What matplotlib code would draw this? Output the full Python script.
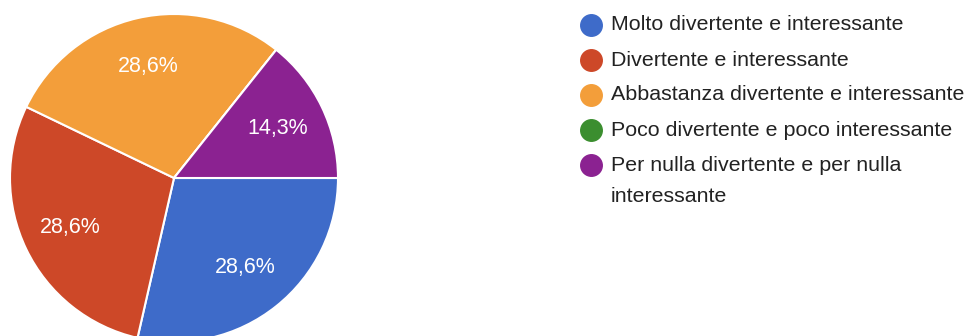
import matplotlib.pyplot as plt
from matplotlib.lines import Line2D

plt.rcParams['font.family'] = ['Liberation Sans', 'DejaVu Sans']

# ======================
# Data
# ======================
categories = [
    'Molto divertente e interessante',
    'Divertente e interessante',
    'Abbastanza divertente e interessante',
    'Poco divertente e poco interessante',
    'Per nulla divertente e per nulla\ninteressante',
]
responses = [2, 2, 2, 0, 1]
colors = ['#3e6bc9', '#cd4828', '#f39e3a', '#3b8e2f', '#8b2291']

W, H = 977, 336

# ======================
# Figure (axes in pixel units)
# ======================
fig = plt.figure(figsize=(W / 100, H / 100), dpi=100)
ax = fig.add_axes([0, 0, 1, 1])

def pct_label(p):
    return f'{p:.1f}%'.replace('.', ',') if p > 0 else ''

wedges, texts, autotexts = ax.pie(
    responses,
    colors=colors,
    startangle=0,
    counterclock=False,
    center=(174, H - 178),
    radius=164,
    autopct=pct_label,
    pctdistance=0.7,
    wedgeprops=dict(edgecolor='white', linewidth=1.5),
    textprops=dict(color='white', fontsize=15.5),
)

ax.set_xlim(0, W)
ax.set_ylim(0, H)
ax.set_aspect('equal', adjustable='box')
ax.axis('off')

# ======================
# Legend
# ======================
for i, (label, col) in enumerate(zip(categories, colors)):
    y = H - (25 + 35 * i)
    ax.add_line(Line2D([591], [y], marker='o', markersize=15.5,
                       markerfacecolor=col, markeredgecolor=col))
    if '\n' in label:
        # wrapped label: first line stays on the marker row
        ax.text(611, y + 9, label, ha='left', va='top',
                fontsize=15.4, color='#222222', linespacing=1.8)
    else:
        ax.text(611, y, label, ha='left', va='center',
                fontsize=15.4, color='#222222')

plt.savefig('out.png', dpi=100)
